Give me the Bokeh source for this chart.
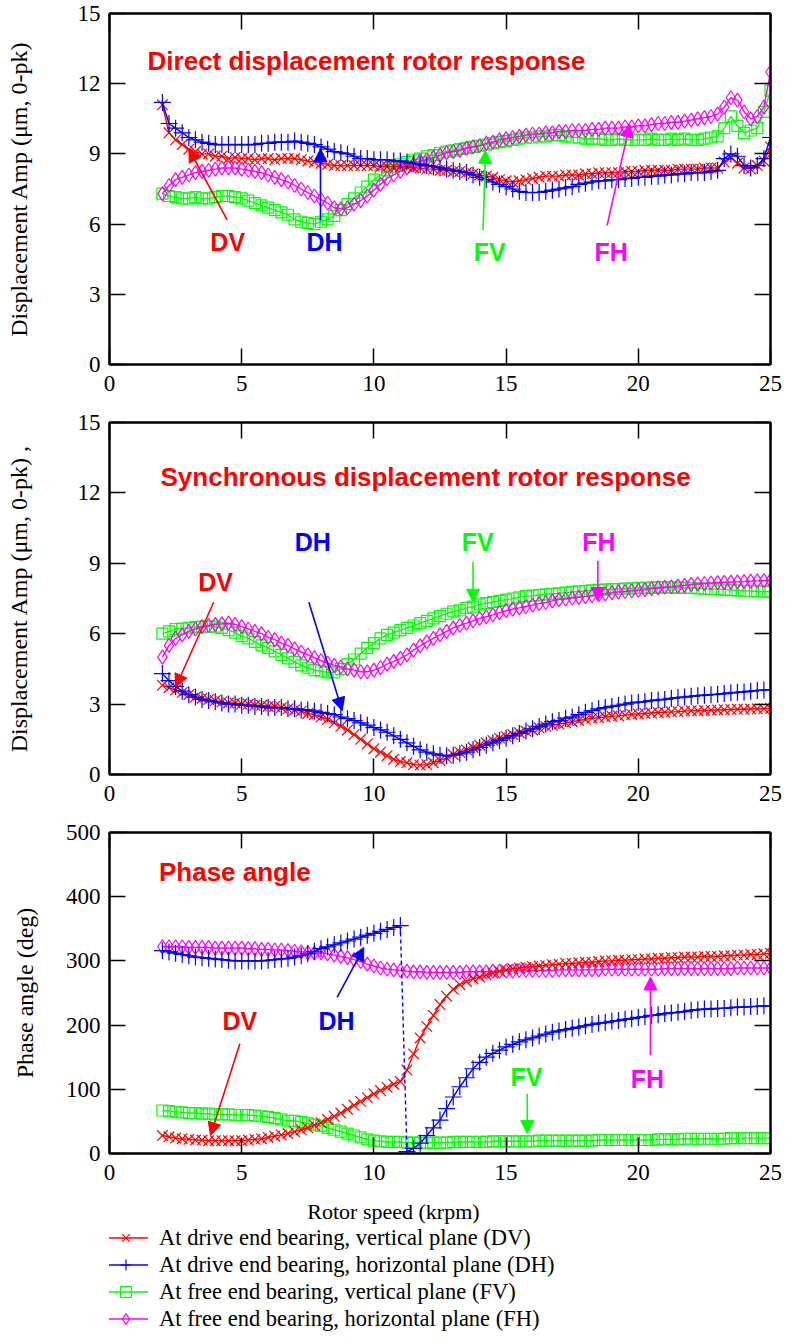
from bokeh.plotting import figure
from bokeh.layouts import column
from bokeh.models import (LinearAxis, Range1d, FixedTicker, Arrow, NormalHead,
                          Label, Legend, LegendItem)
from bokeh.embed import file_html
from bokeh.resources import INLINE

# ---------------- data ----------------
speed = [2.0, 2.25, 2.5, 2.75, 3.0, 3.25, 3.5, 3.75, 4.0, 4.25, 4.5, 4.75,
         5.0, 5.25, 5.5, 5.75, 6.0, 6.25, 6.5, 6.75, 7.0, 7.25, 7.5, 7.75,
         8.0, 8.25, 8.5, 8.75, 9.0, 9.25, 9.5, 9.75, 10.0, 10.25, 10.5, 10.75,
         11.0, 11.25, 11.5, 11.75, 12.0, 12.25, 12.5, 12.75, 13.0, 13.25, 13.5, 13.75,
         14.0, 14.25, 14.5, 14.75, 15.0, 15.25, 15.5, 15.75, 16.0, 16.25, 16.5, 16.75,
         17.0, 17.25, 17.5, 17.75, 18.0, 18.25, 18.5, 18.75, 19.0, 19.25, 19.5, 19.75,
         20.0, 20.25, 20.5, 20.75, 21.0, 21.25, 21.5, 21.75, 22.0, 22.25, 22.5, 22.75,
         23.0, 23.25, 23.5, 23.75, 24.0, 24.25, 24.5, 24.75, 25.0]

x_ticks = [0, 5, 10, 15, 20, 25]
amp_ticks = [0, 3, 6, 9, 12, 15]
phase_ticks = [0, 100, 200, 300, 400, 500]

# Direct displacement (um, 0-pk)
direct_dv = [11.1, 9.9, 9.6, 9.4, 9.2, 9.1, 9.0, 9.0, 8.9, 8.9, 8.8, 8.85,
             8.8, 8.8, 8.75, 8.8, 8.8, 8.75, 8.8, 8.8, 8.8, 8.75, 8.7, 8.65,
             8.6, 8.55, 8.5, 8.5, 8.5, 8.5, 8.5, 8.5, 8.5, 8.45, 8.45, 8.45,
             8.45, 8.45, 8.4, 8.4, 8.35, 8.35, 8.3, 8.3, 8.25, 8.25, 8.2, 8.15,
             8.1, 8.05, 8.0, 7.9, 7.85, 7.8, 7.85, 7.9, 7.95, 8.0, 8.05, 8.05,
             8.05, 8.1, 8.1, 8.1, 8.15, 8.15, 8.2, 8.2, 8.2, 8.2, 8.25, 8.25,
             8.25, 8.3, 8.3, 8.3, 8.3, 8.3, 8.35, 8.35, 8.35, 8.35, 8.4, 8.4,
             8.4, 8.65, 8.85, 8.6, 8.4, 8.35, 8.5, 8.7, 9.3]
direct_dh = [11.2, 10.3, 10.1, 9.9, 9.7, 9.6, 9.5, 9.45, 9.4, 9.4, 9.4, 9.4,
             9.4, 9.4, 9.4, 9.45, 9.45, 9.5, 9.5, 9.5, 9.55, 9.5, 9.45, 9.4,
             9.3, 9.2, 9.1, 9.05, 9.0, 8.9, 8.8, 8.8, 8.75, 8.75, 8.75, 8.7,
             8.7, 8.65, 8.6, 8.55, 8.5, 8.45, 8.4, 8.35, 8.3, 8.25, 8.2, 8.1,
             8.0, 7.9, 7.8, 7.7, 7.6, 7.5, 7.4, 7.35, 7.35, 7.35, 7.4, 7.45,
             7.5, 7.55, 7.6, 7.7, 7.75, 7.8, 7.85, 7.85, 7.9, 7.9, 7.95, 7.95,
             8.0, 8.0, 8.05, 8.05, 8.1, 8.1, 8.15, 8.15, 8.2, 8.2, 8.2, 8.25,
             8.3, 8.8, 9.0, 8.9, 8.5, 8.4, 8.5, 8.8, 9.7]
direct_fv = [7.3, 7.2, 7.15, 7.1, 7.1, 7.15, 7.1, 7.1, 7.15, 7.2, 7.2, 7.15,
             7.1, 7.0, 6.9, 6.8, 6.7, 6.6, 6.5, 6.4, 6.2, 6.1, 6.05, 6.0,
             6.1, 6.2, 6.35, 6.6, 6.85, 7.1, 7.35, 7.6, 7.9, 8.1, 8.3, 8.45,
             8.55, 8.65, 8.75, 8.8, 8.9, 8.95, 9.05, 9.1, 9.15, 9.2, 9.25, 9.3,
             9.35, 9.4, 9.45, 9.5, 9.55, 9.6, 9.65, 9.7, 9.7, 9.75, 9.75, 9.8,
             9.8, 9.75, 9.7, 9.7, 9.65, 9.65, 9.65, 9.6, 9.6, 9.65, 9.6, 9.6,
             9.6, 9.6, 9.65, 9.6, 9.6, 9.65, 9.6, 9.65, 9.6, 9.6, 9.65, 9.7,
             9.75, 10.1, 10.6, 10.2, 9.9, 10.0, 10.1, 10.8, 11.7]
direct_fh = [7.3, 7.65, 7.9, 8.0, 8.1, 8.2, 8.25, 8.3, 8.35, 8.4, 8.4, 8.4,
             8.35, 8.3, 8.25, 8.2, 8.1, 8.0, 7.9, 7.8, 7.65, 7.5, 7.35, 7.2,
             7.05, 6.9, 6.7, 6.65, 6.7, 6.85, 7.0, 7.2, 7.45, 7.7, 7.95, 8.1,
             8.25, 8.4, 8.55, 8.7, 8.75, 8.85, 8.95, 9.05, 9.1, 9.15, 9.25, 9.3,
             9.35, 9.45, 9.5, 9.6, 9.65, 9.7, 9.75, 9.8, 9.85, 9.85, 9.9, 9.9,
             9.95, 9.95, 10.0, 10.0, 10.0, 10.05, 10.05, 10.1, 10.1, 10.1, 10.15, 10.15,
             10.2, 10.2, 10.25, 10.3, 10.3, 10.35, 10.35, 10.4, 10.45, 10.5, 10.55, 10.6,
             10.7, 11.0, 11.4, 11.3, 10.8, 10.5, 10.6, 11.0, 12.5]

# Synchronous displacement (um, 0-pk)
sync_dv = [3.8, 3.7, 3.6, 3.5, 3.4, 3.3, 3.25, 3.2, 3.15, 3.1, 3.05, 3.05,
           3.0, 3.0, 2.95, 2.95, 2.9, 2.9, 2.85, 2.8, 2.75, 2.7, 2.6, 2.55,
           2.45, 2.35, 2.2, 2.05, 1.9, 1.7, 1.5, 1.3, 1.1, 0.95, 0.8, 0.65,
           0.55, 0.5, 0.42, 0.4, 0.42, 0.5, 0.6, 0.7, 0.85, 0.95, 1.05, 1.15,
           1.25, 1.35, 1.45, 1.55, 1.62, 1.7, 1.78, 1.85, 1.9, 1.98, 2.05, 2.1,
           2.15, 2.2, 2.25, 2.3, 2.35, 2.4, 2.42, 2.45, 2.48, 2.5, 2.53, 2.56,
           2.58, 2.6, 2.62, 2.64, 2.65, 2.67, 2.68, 2.7, 2.72, 2.72, 2.73, 2.74,
           2.75, 2.76, 2.77, 2.78, 2.78, 2.79, 2.8, 2.8, 2.82]
sync_dh = [4.3, 4.0, 3.75, 3.55, 3.4, 3.3, 3.2, 3.15, 3.1, 3.05, 3.0, 3.0,
           2.95, 2.95, 2.9, 2.9, 2.85, 2.85, 2.85, 2.8, 2.8, 2.75, 2.75, 2.7,
           2.65, 2.6, 2.55, 2.45, 2.38, 2.3, 2.2, 2.1, 2.0, 1.9, 1.8, 1.65,
           1.5, 1.35, 1.2, 1.05, 0.95, 0.88, 0.82, 0.8, 0.82, 0.88, 0.95, 1.05,
           1.15, 1.25, 1.35, 1.45, 1.55, 1.65, 1.75, 1.85, 1.95, 2.05, 2.15, 2.25,
           2.3, 2.4, 2.45, 2.55, 2.65, 2.72, 2.8, 2.85, 2.9, 2.95, 3.0, 3.05,
           3.08, 3.1, 3.15, 3.18, 3.2, 3.25, 3.28, 3.3, 3.33, 3.36, 3.38, 3.4,
           3.42, 3.45, 3.48, 3.5, 3.52, 3.55, 3.58, 3.6, 3.62]
sync_fv = [6.0, 6.1, 6.2, 6.22, 6.25, 6.28, 6.3, 6.3, 6.3, 6.25, 6.15, 6.05,
           5.9, 5.8, 5.65, 5.5, 5.4, 5.25, 5.1, 4.95, 4.8, 4.65, 4.55, 4.45,
           4.4, 4.35, 4.35, 4.5, 4.7, 4.9, 5.15, 5.4, 5.6, 5.8, 5.95, 6.05,
           6.15, 6.25, 6.35, 6.45, 6.55, 6.65, 6.75, 6.85, 6.95, 7.0, 7.1, 7.15,
           7.25, 7.3, 7.35, 7.4, 7.45, 7.5, 7.55, 7.6, 7.62, 7.65, 7.68, 7.7,
           7.72, 7.75, 7.78, 7.8, 7.82, 7.85, 7.87, 7.88, 7.9, 7.9, 7.92, 7.93,
           7.95, 7.95, 7.96, 7.97, 7.97, 7.97, 7.96, 7.95, 7.95, 7.93, 7.92, 7.9,
           7.9, 7.88, 7.86, 7.85, 7.83, 7.82, 7.8, 7.8, 7.78]
sync_fh = [5.0, 5.5, 5.8, 5.95, 6.1, 6.2, 6.3, 6.35, 6.4, 6.42, 6.45, 6.4,
           6.3, 6.2, 6.1, 6.0, 5.85, 5.75, 5.6, 5.5, 5.35, 5.22, 5.1, 4.98,
           4.85, 4.75, 4.65, 4.58, 4.5, 4.45, 4.38, 4.38, 4.45, 4.55, 4.7, 4.82,
           4.95, 5.1, 5.3, 5.48, 5.65, 5.8, 5.95, 6.1, 6.25, 6.35, 6.45, 6.55,
           6.65, 6.72, 6.8, 6.9, 6.98, 7.05, 7.1, 7.16, 7.22, 7.28, 7.33, 7.4,
           7.45, 7.48, 7.52, 7.55, 7.58, 7.62, 7.66, 7.7, 7.75, 7.78, 7.8, 7.83,
           7.85, 7.88, 7.92, 7.95, 7.98, 8.0, 8.03, 8.06, 8.1, 8.12, 8.14, 8.16,
           8.18, 8.19, 8.2, 8.21, 8.22, 8.24, 8.25, 8.26, 8.27]

# Phase angle (deg)
phase_dv = [28, 26, 24, 23, 22, 21, 21, 20, 20, 20, 20, 20,
            20, 21, 22, 23, 25, 27, 29, 31, 34, 37, 40, 44,
            48, 53, 58, 63, 69, 75, 81, 87, 93, 98, 103, 108,
            112, 130, 155, 180, 198, 215, 232, 245, 256, 263, 268, 272,
            275, 278, 281, 284, 286, 288, 289, 290, 291, 292, 293, 294,
            295, 296, 296, 297, 298, 298, 299, 300, 300, 301, 301, 302,
            302, 303, 303, 304, 304, 305, 305, 306, 306, 306, 307, 307,
            307, 308, 308, 309, 309, 310, 310, 311, 312]
phase_dh = [316, 314, 312, 310, 308, 306, 305, 304, 303, 302, 301, 300,
            300, 300, 300, 300, 301, 302, 303, 304, 306, 308, 311, 315,
            319, 322, 325, 328, 331, 334, 337, 340, 343, 346, 349, 352,
            355, 3, 8, 16, 28, 40, 52, 70, 88, 104, 118, 132,
            142, 150, 156, 161, 166, 170, 174, 177, 180, 183, 186, 189,
            191, 193, 195, 197, 199, 201, 203, 204, 206, 207, 209, 210,
            212, 213, 215, 216, 218, 219, 220, 221, 223, 224, 225, 225,
            226, 226, 227, 228, 228, 229, 229, 230, 230]
phase_fv = [67, 66, 65, 64, 63, 63, 62, 62, 61, 61, 61, 60,
            60, 60, 59, 58, 57, 55, 53, 51, 51, 49, 47, 45,
            43, 40, 37, 34, 31, 28, 25, 22, 20, 19, 18, 18,
            18, 17, 17, 17, 17, 17, 17, 17, 18, 18, 18, 18,
            18, 18, 19, 19, 19, 19, 19, 19, 19, 20, 20, 20,
            20, 20, 20, 20, 20, 20, 21, 21, 21, 21, 21, 21,
            21, 21, 21, 22, 22, 22, 22, 23, 23, 23, 23, 23,
            23, 23, 24, 24, 24, 24, 24, 24, 24]
phase_fh = [322, 322, 322, 322, 321, 321, 321, 321, 320, 320, 320, 320,
            320, 319, 319, 318, 318, 317, 317, 316, 315, 314, 313, 312,
            313, 311, 309, 307, 305, 302, 299, 295, 292, 289, 287, 286,
            285, 284, 283, 283, 282, 282, 282, 282, 282, 282, 283, 283,
            283, 283, 284, 284, 284, 284, 285, 285, 285, 285, 285, 285,
            286, 286, 286, 286, 286, 286, 286, 287, 287, 287, 287, 287,
            287, 287, 287, 287, 288, 288, 288, 288, 288, 288, 288, 288,
            288, 288, 288, 289, 289, 289, 289, 289, 289]
wrap_index = 37  # DH phase wraps from 360 to 0 between these samples

x_label = "Rotor speed (krpm)"
legend_labels = ["At drive end bearing, vertical plane (DV)",
                 "At drive end bearing, horizontal plane (DH)",
                 "At free end bearing, vertical plane (FV)",
                 "At free end bearing, horizontal plane (FH)"]

# ---------------- style ----------------
SERIF = "Liberation Serif"
SANS = "Liberation Sans"
RED, BLUE, GREEN, MAGENTA = "#ff0000", "#0000ff", "#00ff00", "#ff00ff"
STYLE = {
    "DV": dict(color=RED, marker="x", size=15),
    "DH": dict(color=BLUE, marker="cross", size=17),
    "FV": dict(color=GREEN, marker="square", size=11),
    "FH": dict(color=MAGENTA, marker="diamond", size=14),
}


def style_axis(ax, hidden=False):
    ax.axis_line_width = 2
    ax.axis_line_color = "black"
    ax.major_tick_line_width = 1.5
    ax.major_tick_line_color = "black"
    ax.major_tick_in = 16
    ax.major_tick_out = 0
    ax.minor_tick_line_color = None
    ax.major_label_text_font = SERIF
    if hidden:
        ax.major_label_text_color = None
        ax.major_label_text_font_size = "1px"
        ax.major_label_standoff = 0
    else:
        ax.major_label_text_color = "black"
        ax.major_label_text_font_size = "23px"


def make_panel(h, top, bottom, ymax, yticks, ylabel, lab_standoff):
    p = figure(width=789, height=h, x_range=Range1d(0, 25), y_range=Range1d(0, ymax),
               output_backend="svg", toolbar_location=None,
               min_border_left=109, min_border_right=19,
               min_border_top=top, min_border_bottom=bottom)
    p.grid.visible = False
    p.outline_line_color = "black"
    p.outline_line_width = 2
    p.xaxis.ticker = FixedTicker(ticks=x_ticks)
    p.yaxis.ticker = FixedTicker(ticks=yticks)
    for ax in p.xaxis:
        style_axis(ax)
        ax.major_label_standoff = 11
    for ax in p.yaxis:
        style_axis(ax)
        ax.major_label_standoff = 9
        ax.axis_label = ylabel
        ax.axis_label_text_font = SERIF
        ax.axis_label_text_color = "black"
        ax.axis_label_text_font_style = "normal"
        ax.axis_label_text_font_size = "24px"
        ax.axis_label_standoff = lab_standoff
    top_ax = LinearAxis(ticker=FixedTicker(ticks=x_ticks))
    style_axis(top_ax, hidden=True)
    p.add_layout(top_ax, "above")
    right_ax = LinearAxis(ticker=FixedTicker(ticks=yticks))
    style_axis(right_ax, hidden=True)
    p.add_layout(right_ax, "right")
    return p


def plot_series(p, key, y, visible=True):
    st = STYLE[key]
    ln = p.line(speed, y, line_color=st["color"], line_width=1.4, visible=visible)
    sc = p.scatter(speed, y, marker=st["marker"], size=st["size"],
                   line_color=st["color"], fill_color=None, line_width=1.2,
                   visible=visible)
    return [ln, sc]


def add_arrow(p, x0, y0, x1, y1, c):
    p.add_layout(Arrow(end=NormalHead(size=13, fill_color=c, line_color=c, line_width=1),
                       x_start=x0, y_start=y0, x_end=x1, y_end=y1,
                       line_color=c, line_width=1.6))


def add_tag(p, x, y, text, c):
    p.add_layout(Label(x=x, y=y, text=text, text_color=c, text_font=SANS,
                       text_font_style="bold", text_font_size="25px",
                       text_align="center", text_baseline="middle"))


def add_title(p, x, y, text):
    p.add_layout(Label(x=x, y=y, text=text, text_color=RED, text_font=SANS,
                       text_font_style="bold", text_font_size="26px",
                       text_align="left", text_baseline="middle"))


# ---------------- panel 1 ----------------
p1 = make_panel(408, 13, 44, 15, amp_ticks, "Displacement Amp (μm, 0-pk)", 43)
for k, y in (("FV", direct_fv), ("FH", direct_fh), ("DV", direct_dv), ("DH", direct_dh)):
    plot_series(p1, k, y)
add_title(p1, 1.44, 12.99, "Direct displacement rotor response")
add_arrow(p1, 4.45, 6.18, 3.0, 9.22, RED)
add_tag(p1, 4.47, 5.23, "DV", RED)
add_arrow(p1, 7.98, 6.15, 7.98, 9.22, BLUE)
add_tag(p1, 8.13, 5.23, "DH", BLUE)
add_arrow(p1, 14.13, 5.73, 14.22, 9.15, GREEN)
add_tag(p1, 14.38, 4.80, "FV", GREEN)
add_arrow(p1, 18.82, 5.94, 19.68, 10.28, MAGENTA)
add_tag(p1, 18.97, 4.80, "FH", MAGENTA)

# ---------------- panel 2 ----------------
p2 = make_panel(404, 14, 38, 15, amp_ticks, "Displacement Amp (μm, 0-pk) ,", 43)
for k, y in (("FV", sync_fv), ("FH", sync_fh), ("DV", sync_dv), ("DH", sync_dh)):
    plot_series(p2, k, y)
add_title(p2, 1.93, 12.66, "Synchronous displacement rotor response")
add_arrow(p2, 3.94, 7.34, 2.5, 3.72, RED)
add_tag(p2, 4.01, 8.19, "DV", RED)
add_arrow(p2, 7.54, 7.34, 8.80, 2.72, BLUE)
add_tag(p2, 7.69, 9.89, "DH", BLUE)
add_arrow(p2, 13.75, 9.04, 13.75, 7.34, GREEN)
add_tag(p2, 13.93, 9.89, "FV", GREEN)
add_arrow(p2, 18.47, 9.11, 18.47, 7.41, MAGENTA)
add_tag(p2, 18.51, 9.89, "FH", MAGENTA)

# ---------------- panel 3 ----------------
p3 = make_panel(384, 20, 43, 500, phase_ticks, "Phase angle (deg)", 25)
plot_series(p3, "FV", phase_fv)
plot_series(p3, "FH", phase_fh)
plot_series(p3, "DV", phase_dv)
st = STYLE["DH"]
p3.line(speed[:wrap_index], phase_dh[:wrap_index], line_color=BLUE, line_width=1.4)
p3.line(speed[wrap_index - 1:wrap_index + 1], phase_dh[wrap_index - 1:wrap_index + 1],
        line_color=BLUE, line_width=1.4, line_dash="4 3")
p3.line(speed[wrap_index:], phase_dh[wrap_index:], line_color=BLUE, line_width=1.4)
p3.scatter(speed, phase_dh, marker=st["marker"], size=st["size"],
           line_color=BLUE, fill_color=None, line_width=1.2)
add_title(p3, 1.87, 438, "Phase angle")
add_arrow(p3, 4.93, 171, 3.82, 28, RED)
add_tag(p3, 4.93, 207, "DV", RED)
add_arrow(p3, 8.61, 243, 9.62, 321, BLUE)
add_tag(p3, 8.59, 207, "DH", BLUE)
add_arrow(p3, 15.8, 93, 15.8, 31, GREEN)
add_tag(p3, 15.77, 119, "FV", GREEN)
add_arrow(p3, 20.46, 153, 20.46, 275, MAGENTA)
add_tag(p3, 20.34, 116, "FH", MAGENTA)

# ---------------- x label + legend strip ----------------
p4 = figure(width=789, height=148, x_range=Range1d(0, 25), y_range=Range1d(0, 148),
            output_backend="svg", toolbar_location=None,
            x_axis_location=None, y_axis_location=None, min_border=0)
p4.grid.visible = False
p4.outline_line_color = None
p4.add_layout(Label(x=10.74, y=133, text=x_label, text_font=SERIF,
                    text_font_size="22px", text_color="black",
                    text_align="center", text_baseline="middle"))
r_dv = plot_series(p4, "DV", phase_dv, visible=False)
r_dh = plot_series(p4, "DH", phase_dh, visible=False)
r_fv = plot_series(p4, "FV", phase_fv, visible=False)
r_fh = plot_series(p4, "FH", phase_fh, visible=False)
legend = Legend(items=[LegendItem(label=legend_labels[0], renderers=r_dv),
                       LegendItem(label=legend_labels[1], renderers=r_dh),
                       LegendItem(label=legend_labels[2], renderers=r_fv),
                       LegendItem(label=legend_labels[3], renderers=r_fh)],
                location=(-6, 12), orientation="vertical",
                label_text_font=SERIF, label_text_font_size="22.5px",
                label_text_color="black",
                glyph_width=45, glyph_height=27, label_height=27, spacing=0,
                padding=0, margin=0, label_standoff=11,
                inactive_fill_alpha=0,
                border_line_color=None, background_fill_alpha=0)
p4.add_layout(legend, "center")

layout = column(p1, p2, p3, p4, spacing=0)
open("out.html", "w").write(file_html(layout, INLINE))
